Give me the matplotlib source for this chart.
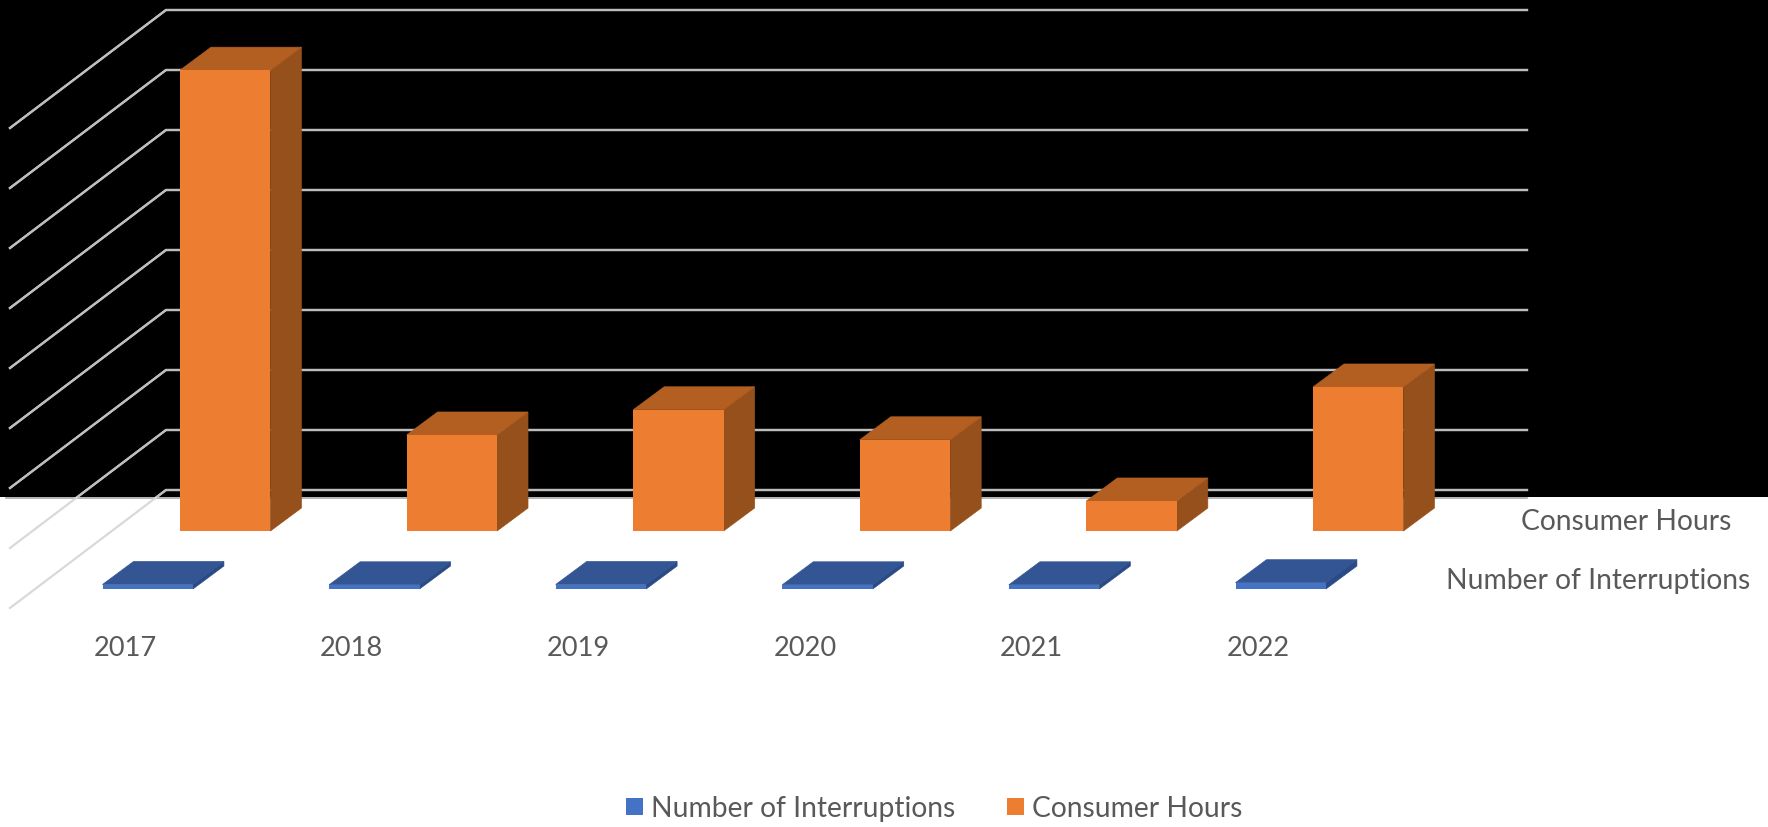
import matplotlib
matplotlib.use('Agg')
import matplotlib.pyplot as plt
from matplotlib.patches import Polygon, Rectangle

# --- data ---
years = ['2017', '2018', '2019', '2020', '2021', '2022']
consumer_hours = [7680, 1600, 2020, 1520, 500, 2400]
interruptions = [75, 70, 75, 70, 70, 105]
grid_values = [0, 1000, 2000, 3000, 4000, 5000, 6000, 7000, 8000]
series_names = ['Number of Interruptions', 'Consumer Hours']

# --- pixel sizes of the oblique projection ---
W, H = 1768, 827
CAT_PX = 226.6          # px per category
VAL_PX = 60 / 1000      # px per unit
X0_PX = 225.2           # centre of first orange front face
Y0_PX = 531             # zero line of the orange row
BAR_W = 90.4 / CAT_PX
DEPTH_X = 31 / CAT_PX
DEPTH_Y = 23 / VAL_PX
ROW_X = -77.5 / CAT_PX  # blue row sits in front and to the left
ROW_Y = -58 / VAL_PX

ORANGE = ('#ED7D31', '#B35F22', '#96501B')
BLUE = ('#4472C4', '#335593', '#2A4A85')
TEXT = '#595959'
GRID_LIGHT = '#D9D9D9'
GRID_ON_BLACK = '#BDBDBD'
FS = 20.3

plt.rcParams['font.family'] = ['Lato', 'DejaVu Sans']

fig = plt.figure(figsize=(W / 100, H / 100), dpi=100, facecolor='white')
ax = fig.add_axes([0, 0, 1, 1])
ax.set_xlim(-X0_PX / CAT_PX, (W - X0_PX) / CAT_PX)
ax.set_ylim(-(H - Y0_PX) / VAL_PX, Y0_PX / VAL_PX)
ax.axis('off')


def px_x(p):
    return (p - X0_PX) / CAT_PX


def px_y(p):
    return (Y0_PX - p) / VAL_PX


# black band behind the top of the chart
band = Rectangle((px_x(0), px_y(497)), W / CAT_PX, 497 / VAL_PX,
                 color='black', lw=0, zorder=0)
ax.add_patch(band)
ax.plot([px_x(6), px_x(1527)], [px_y(498), px_y(498)], color='#A6A6A6', lw=1.2, zorder=1)

# gridlines: back wall and the slanted side lines, greyer where they cross the black band
for g in grid_values:
    y_back = px_y(490) + g
    y_front = px_y(608) + g
    xs = [px_x(10), px_x(166), px_x(1527)]
    ys = [y_front, y_back, y_back]
    ax.plot(xs, ys, color=GRID_LIGHT, lw=1.6, zorder=1, solid_joinstyle='miter')
    dark, = ax.plot(xs, ys, color=GRID_ON_BLACK, lw=1.6, zorder=1.5, solid_joinstyle='miter')
    dark.set_clip_path(band)


def bar3d(ax, i, val, off_x, off_y, colors, z):
    xl = i - BAR_W / 2 + off_x
    xr = xl + BAR_W
    y0 = off_y
    y1 = off_y + val
    front = [(xl, y0), (xr, y0), (xr, y1), (xl, y1)]
    top = [(xl, y1), (xr, y1), (xr + DEPTH_X, y1 + DEPTH_Y), (xl + DEPTH_X, y1 + DEPTH_Y)]
    side = [(xr, y0), (xr + DEPTH_X, y0 + DEPTH_Y), (xr + DEPTH_X, y1 + DEPTH_Y), (xr, y1)]
    # thin edges in the face colour close the seams between the faces
    ax.add_patch(Polygon(side, facecolor=colors[2], edgecolor=colors[2], lw=0.5, zorder=z))
    ax.add_patch(Polygon(top, facecolor=colors[1], edgecolor=colors[1], lw=0.5, zorder=z))
    ax.add_patch(Polygon(front, facecolor=colors[0], edgecolor='none', zorder=z + 0.1))


for i, v in enumerate(consumer_hours):
    bar3d(ax, i, v, 0, 0, ORANGE, 3)
for i, v in enumerate(interruptions):
    bar3d(ax, i, v, ROW_X, ROW_Y, BLUE, 4)

# category labels
for i, y in enumerate(years):
    ax.text(i - 100 / CAT_PX, px_y(648), y, color=TEXT, fontsize=19.6,
            ha='center', va='center')

# series labels on the depth axis
ax.text(px_x(1626), px_y(522), series_names[1], color=TEXT, fontsize=FS, ha='center', va='center')
ax.text(px_x(1598), px_y(581), series_names[0], color=TEXT, fontsize=FS, ha='center', va='center')

# legend
for name, col, x_sq in zip(series_names, [BLUE[0], ORANGE[0]], [626, 1007]):
    ax.add_patch(Rectangle((px_x(x_sq), px_y(815)), 17 / CAT_PX, 17 / VAL_PX, color=col, lw=0))
    ax.text(px_x(x_sq + 25), px_y(809), name, color=TEXT, fontsize=FS, ha='left', va='center')

fig.savefig('out.png', dpi=100, facecolor='white')
